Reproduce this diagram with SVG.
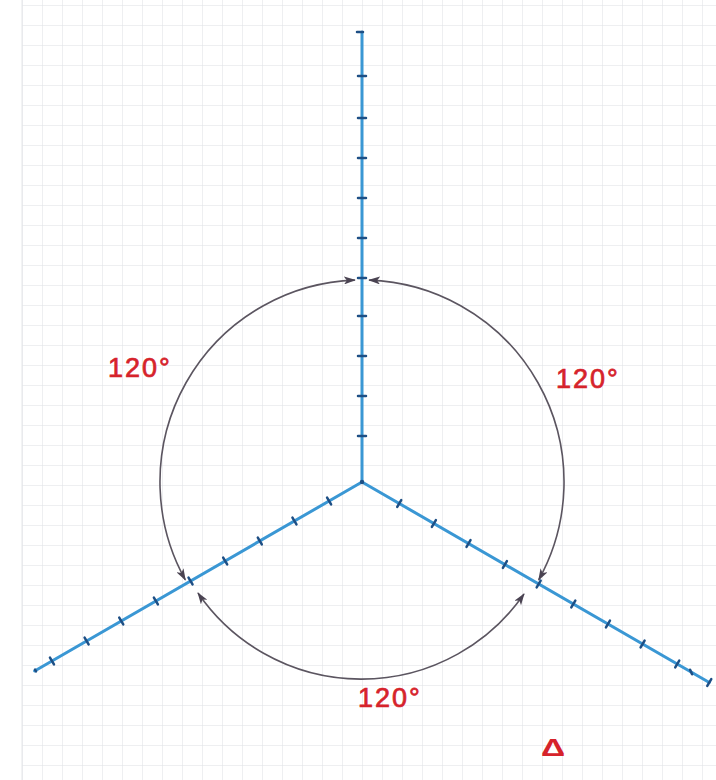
<svg xmlns="http://www.w3.org/2000/svg" width="716" height="780" viewBox="0 0 716 780">
  <defs>
    <pattern id="grid" x="2" y="5" width="20" height="20" patternUnits="userSpaceOnUse">
      <path d="M20,0 L0,0 L0,20" fill="none" stroke="#dde0e4" stroke-width="1"/>
    </pattern>
    <marker id="arrow" viewBox="0 0 12 8" refX="11" refY="4" markerWidth="12" markerHeight="8" markerUnits="userSpaceOnUse" orient="auto-start-reverse">
      <path d="M0,0 L12,4 L0,8 L3,4 z" fill="#4a4352"/>
    </marker>
  </defs>
  <style>
    .axis { stroke: #3a97d4; stroke-width: 3; fill: none; stroke-linecap: round; }
    .tick { stroke: #1e4f85; stroke-width: 2.5; stroke-linecap: round; }
    .arc { stroke: #5b5560; stroke-width: 1.6; fill: none; marker-start: url(#arrow); marker-end: url(#arrow); }
    .lbl { font-family: "Liberation Sans", Arial, sans-serif; font-size: 27px; fill: #d6232b; stroke: #d6232b; stroke-width: 0.7; letter-spacing: 2px; }
  </style>
  <rect x="0" y="0" width="716" height="780" fill="#ffffff"/>
  <rect x="22" y="0" width="694" height="780" fill="url(#grid)"/>
  <line x1="22" y1="0" x2="22" y2="780" stroke="#e4e6e9" stroke-width="1"/>

  <g id="axis-vertical" transform="translate(362,482) rotate(-90)">
    <line class="axis" x1="0" y1="0" x2="450" y2="0"/>
    <g class="tick-marks">
      <line class="tick" x1="46" y1="-4" x2="46" y2="4"/>
      <line class="tick" x1="86" y1="-4" x2="86" y2="4"/>
      <line class="tick" x1="126" y1="-4" x2="126" y2="4"/>
      <line class="tick" x1="166" y1="-4" x2="166" y2="4"/>
      <line class="tick" x1="204" y1="-4" x2="204" y2="4"/>
      <line class="tick" x1="244" y1="-4" x2="244" y2="4"/>
      <line class="tick" x1="284" y1="-4" x2="284" y2="4"/>
      <line class="tick" x1="324" y1="-4" x2="324" y2="4"/>
      <line class="tick" x1="364" y1="-4" x2="364" y2="4"/>
      <line class="tick" x1="406" y1="-4" x2="406" y2="4"/>
      <line class="tick" x1="450" y1="-5" x2="450" y2="1"/>
    </g>
  </g>

  <g id="axis-left" transform="translate(362,482) rotate(150)">
    <line class="axis" x1="0" y1="0" x2="378" y2="0"/>
    <g class="tick-marks">
      <line class="tick" x1="38" y1="-4" x2="38" y2="4"/>
      <line class="tick" x1="78" y1="-4" x2="78" y2="4"/>
      <line class="tick" x1="118" y1="-4" x2="118" y2="4"/>
      <line class="tick" x1="158" y1="-4" x2="158" y2="4"/>
      <line class="tick" x1="198" y1="-4" x2="198" y2="4"/>
      <line class="tick" x1="238" y1="-4" x2="238" y2="4"/>
      <line class="tick" x1="278" y1="-4" x2="278" y2="4"/>
      <line class="tick" x1="318" y1="-4" x2="318" y2="4"/>
      <line class="tick" x1="358" y1="-4" x2="358" y2="4"/>
      <line class="tick" x1="377" y1="-1" x2="377" y2="1"/>
    </g>
  </g>

  <g id="axis-right" transform="translate(362,482) rotate(30)">
    <line class="axis" x1="0" y1="0" x2="401" y2="0"/>
    <g class="tick-marks">
      <line class="tick" x1="43" y1="-4" x2="43" y2="4"/>
      <line class="tick" x1="83" y1="-4" x2="83" y2="4"/>
      <line class="tick" x1="123" y1="-4" x2="123" y2="4"/>
      <line class="tick" x1="165" y1="-4" x2="165" y2="4"/>
      <line class="tick" x1="204" y1="-4" x2="204" y2="4"/>
      <line class="tick" x1="244" y1="-4" x2="244" y2="4"/>
      <line class="tick" x1="284" y1="-4" x2="284" y2="4"/>
      <line class="tick" x1="324" y1="-4" x2="324" y2="4"/>
      <line class="tick" x1="364" y1="-4" x2="364" y2="4"/>
      <line class="tick" x1="378" y1="-1.5" x2="382" y2="1.5"/>
      <line class="tick" x1="401" y1="-4" x2="401" y2="4"/>
    </g>
  </g>

  <circle id="origin" cx="362" cy="482" r="2.2" fill="#1e4f85"/>

  <g id="connectors">
    <path class="arc" d="M185.3,579.9 A202,202 0 0 1 354.9,280.1"/>
    <path class="arc" d="M369.1,280.1 A202,202 0 0 1 538.7,579.9"/>
    <path class="arc" d="M524,594 A198,198 0 0 1 198,593"/>
  </g>

  <g id="labels">
    <text class="lbl" x="108" y="377">120°</text>
    <text class="lbl" x="556" y="388">120°</text>
    <text class="lbl" x="358" y="707">120°</text>
    <text transform="translate(541,756) scale(1.4,1)" font-family="Liberation Sans, Arial, sans-serif" font-size="24" font-weight="bold" fill="#d6232b">Δ</text>
  </g>
</svg>
